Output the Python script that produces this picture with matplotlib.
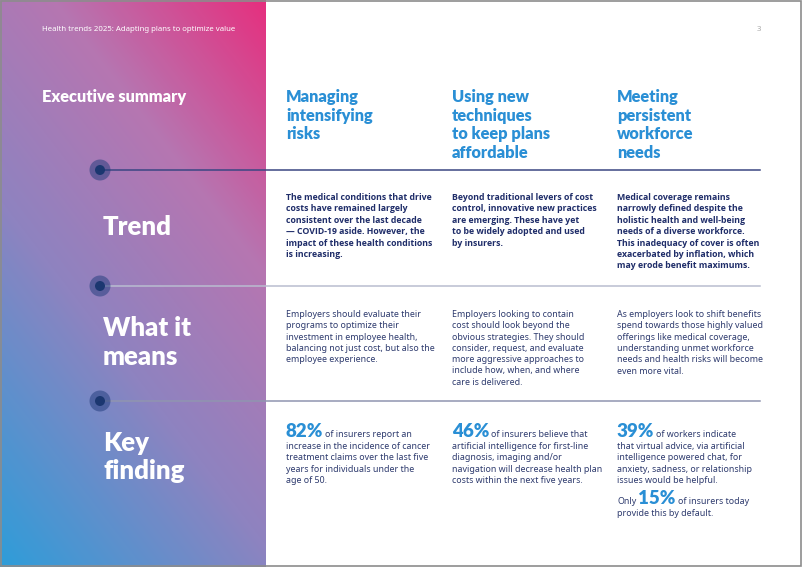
import numpy as np
import matplotlib.pyplot as plt
from matplotlib.colors import LinearSegmentedColormap
from matplotlib.patches import Circle, Rectangle

W, H = 802, 567
PANEL_W = 266

header = "Health trends 2025: Adapting plans to optimize value"
page_no = "3"
title = "Executive summary"

columns = [
    ["Managing", "intensifying", "risks"],
    ["Using new", "techniques", "to keep plans", "affordable"],
    ["Meeting", "persistent", "workforce", "needs"],
]
rows = [["Trend"], ["What it", "means"], ["Key", "finding"]]

trend_text = [
    ["The medical conditions that drive", "costs have remained largely",
     "consistent over the last decade", "\u2014 COVID-19 aside. However, the",
     "impact of these health conditions", "is increasing."],
    ["Beyond traditional levers of cost", "control, innovative new practices",
     "are emerging. These have yet", "to be widely adopted and used", "by insurers."],
    ["Medical coverage remains", "narrowly defined despite the",
     "holistic health and well-being", "needs of a diverse workforce.",
     "This inadequacy of cover is often", "exacerbated by inflation, which",
     "may erode benefit maximums."],
]
means_text = [
    ["Employers should evaluate their", "programs to optimize their",
     "investment in employee health,", "balancing not just cost, but also the",
     "employee experience."],
    ["Employers looking to contain", "cost should look beyond the",
     "obvious strategies. They should", "consider, request, and evaluate",
     "more aggressive approaches to", "include how, when, and where",
     "care is delivered."],
    ["As employers look to shift benefits", "spend towards those highly valued",
     "offerings like medical coverage,", "understanding unmet workforce",
     "needs and health risks will become", "even more vital."],
]
finding_pct = [82, 46, 39]
finding_first = ["of insurers report an", "of insurers believe that", "of workers indicate"]
finding_rest = [
    ["increase in the incidence of cancer", "treatment claims over the last five",
     "years for individuals under the", "age of 50."],
    ["artificial intelligence for first-line", "diagnosis, imaging and/or",
     "navigation will decrease health plan", "costs within the next five years."],
    ["that virtual advice, via artificial", "intelligence powered chat, for",
     "anxiety, sadness, or relationship", "issues would be helpful."],
]
extra_pct = 15
extra_pre = "Only"
extra_post = "of insurers today"
extra_rest = ["provide this by default."]

col_x = [286, 452, 617]
row_y = [170, 286, 401]
line_cols = ["#3a4683", "#b9bdd0", "#9095b0"]

BLUE = "#2a8fd5"
NAVY = "#1f2d69"
BODY = "#2e3b6e"
HEAD_FONT = ["Lato", "DejaVu Sans"]
BODY_FONT = ["Noto Sans", "DejaVu Sans"]
BOLD_FONT = ["Open Sans", "DejaVu Sans"]

fig = plt.figure(figsize=(W / 100, H / 100), dpi=100)
ax = fig.add_axes([0, 0, 1, 1])
ax.set_xlim(0, W)
ax.set_ylim(H, 0)
ax.axis("off")

# gradient panel, pink top right to blue bottom left
yy, xx = np.mgrid[0:H, 0:PANEL_W]
t = ((PANEL_W - xx) * 1.3 + yy) / (PANEL_W * 1.3 + H)
cmap = LinearSegmentedColormap.from_list(
    "grad", [(0, "#e62f7e"), (0.3, "#b676b1"), (0.6, "#8e83c0"), (1, "#2e9dd9")])
ax.imshow(t, cmap=cmap, extent=[0, PANEL_W, H, 0], aspect="auto", vmin=0, vmax=1)

ax.text(42, 31, header, color="white", fontsize=5.6, family=BODY_FONT)
ax.text(757, 31, page_no, color="#aaaaaa", fontsize=5.6, family=BODY_FONT)
ax.text(42, 101.7, title, color="white", fontsize=11.8, weight="heavy", family=HEAD_FONT)

for x, lines in zip(col_x, columns):
    for i, s in enumerate(lines):
        ax.text(x, 101.7 + i * 18.8, s, color=BLUE, fontsize=11.8, weight="heavy", family=HEAD_FONT)

# separators with dots
for y, c in zip(row_y, line_cols):
    ax.plot([100, 760], [y, y], color=c, lw=1.1, zorder=2)
    ax.add_patch(Circle((100, y), 10.5, color="#1e3a7a", alpha=0.5, lw=0, zorder=3))
    ax.add_patch(Circle((100, y), 5, color="#1b3770", lw=0, zorder=4))

label_base = [[235], [336, 365], [451, 479]]
for lines, bases in zip(rows, label_base):
    for s, b in zip(lines, bases):
        ax.text(103, b, s, color="white", fontsize=18.5, weight="heavy", family=HEAD_FONT)

STEP = 11.4
for x, lines in zip(col_x, trend_text):
    for i, s in enumerate(lines):
        ax.text(x, 200 + i * STEP, s, color=NAVY, fontsize=6.3, weight="bold", family=BOLD_FONT)

for x, lines in zip(col_x, means_text):
    for i, s in enumerate(lines):
        ax.text(x, 317 + i * 11.3, s, color=BODY, fontsize=6.4, family=BODY_FONT)

fig.canvas.draw()
renderer = fig.canvas.get_renderer()
inv = ax.transData.inverted()


def right_edge(txt):
    bb = txt.get_window_extent(renderer)
    return inv.transform((bb.x1, bb.y0))[0]


for x, p, first, rest in zip(col_x, finding_pct, finding_first, finding_rest):
    big = ax.text(x, 437.3, f"{p}%", color=BLUE, fontsize=13.5, weight="heavy", family=HEAD_FONT)
    ax.text(right_edge(big) + 2, 437.3, first, color=BODY, fontsize=6.4, family=BODY_FONT)
    for i, s in enumerate(rest):
        ax.text(x, 448.8 + i * STEP, s, color=BODY, fontsize=6.4, family=BODY_FONT)

pre = ax.text(col_x[2], 503.5, extra_pre, color=BODY, fontsize=6.4, family=BODY_FONT)
big = ax.text(right_edge(pre) + 2, 503.5, f"{extra_pct}%", color=BLUE, fontsize=13.5,
              weight="heavy", family=HEAD_FONT)
ax.text(right_edge(big) + 2, 503.5, extra_post, color=BODY, fontsize=6.4, family=BODY_FONT)
for i, s in enumerate(extra_rest):
    ax.text(col_x[2], 516.5 + i * STEP, s, color=BODY, fontsize=6.4, family=BODY_FONT)

# page border
ax.add_patch(Rectangle((0.5, 0.5), W - 2, H - 2, fill=False, ec="#8c8c8c", lw=1.2, zorder=5))

fig.savefig("out.png", dpi=100)
